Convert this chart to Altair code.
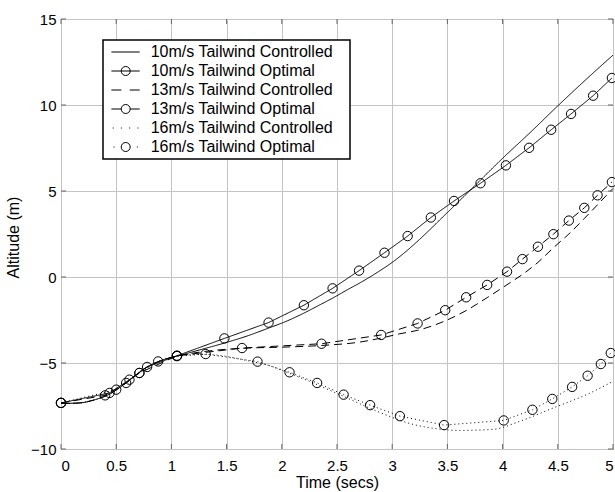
import altair as alt
import pandas as pd

X_TICKS = [0, 0.5, 1, 1.5, 2, 2.5, 3, 3.5, 4, 4.5, 5]
Y_TICKS = [-10, -5, 0, 5, 10, 15]

SERIES = [
    "10m/s Tailwind Controlled",
    "10m/s Tailwind Optimal",
    "13m/s Tailwind Controlled",
    "13m/s Tailwind Optimal",
    "16m/s Tailwind Controlled",
    "16m/s Tailwind Optimal",
]
STYLES = ["solid", "dashed", "dotted"]

# Controlled trajectories (time in s, altitude in m)
ctrl10_t = [0, 0.15, 0.3, 0.45, 0.6, 0.75, 0.9, 1.05, 1.25, 1.48, 1.7, 1.88, 2.05, 2.2, 2.35,
            2.46, 2.6, 2.7, 2.89, 3.0, 3.1, 3.25, 3.5, 3.7, 4.0, 4.25, 4.5, 4.75, 5.0]
ctrl10_h = [-7.35, -7.33, -7.15, -6.77, -6.1, -5.35, -4.87, -4.6, -4.25, -3.84, -3.4, -2.97, -2.55,
            -2.1, -1.6, -1.23, -0.72, -0.37, 0.37, 0.85, 1.35, 2.2, 3.75, 5.0, 6.9, 8.4, 9.95,
            11.45, 12.9]

ctrl13_t = [0, 0.15, 0.3, 0.45, 0.6, 0.75, 0.9, 1.05, 1.2, 1.41, 1.7, 2.0, 2.36, 2.71, 2.9, 3.07,
            3.23, 3.48, 3.67, 3.86, 4.04, 4.18, 4.32, 4.46, 4.6, 4.74, 4.86, 5.0]
ctrl13_h = [-7.35, -7.33, -7.15, -6.77, -6.1, -5.35, -4.87, -4.6, -4.42, -4.25, -4.13, -4.08, -3.98,
            -3.78, -3.55, -3.3, -3.1, -2.55, -1.95, -1.2, -0.45, 0.15, 0.85, 1.7, 2.5, 3.4, 4.2,
            5.15]

ctrl16_t = [0, 0.15, 0.3, 0.45, 0.6, 0.75, 0.9, 1.05, 1.3, 1.5, 1.7, 1.86, 2.05, 2.25, 2.56, 2.86,
            3.19, 3.4, 3.61, 3.91, 4.16, 4.46, 4.76, 5.0]
ctrl16_h = [-7.35, -7.33, -7.15, -6.77, -6.1, -5.35, -4.87, -4.6, -4.5, -4.62, -4.88, -5.1, -5.55,
            -6.07, -6.94, -7.8, -8.57, -8.82, -8.92, -8.86, -8.38, -7.61, -6.84, -6.07]

# Optimal trajectories (marker points)
opt10_t = [0, 0.44, 0.62, 0.78, 1.05, 1.48, 1.88, 2.2, 2.46, 2.7, 2.93, 3.14, 3.35, 3.56, 3.8,
           4.03, 4.24, 4.44, 4.62, 4.82, 4.99]
opt10_h = [-7.32, -6.74, -5.97, -5.23, -4.58, -3.57, -2.65, -1.64, -0.66, 0.37, 1.41, 2.38, 3.46,
           4.42, 5.45, 6.49, 7.51, 8.56, 9.48, 10.54, 11.57]

opt13_t = [0, 0.4, 0.59, 0.71, 1.05, 1.64, 2.36, 2.9, 3.23, 3.48, 3.67, 3.86, 4.04, 4.18, 4.32,
           4.46, 4.6, 4.74, 4.86, 4.99]
opt13_h = [-7.32, -6.88, -6.16, -5.58, -4.58, -4.13, -3.88, -3.37, -2.7, -1.93, -1.18, -0.46, 0.31,
           1.04, 1.76, 2.49, 3.28, 4.02, 4.75, 5.52]

opt16_t = [0, 0.5, 0.71, 0.88, 1.05, 1.31, 1.78, 2.07, 2.32, 2.56, 2.8, 3.07, 3.47, 4.01, 4.27,
           4.45, 4.63, 4.77, 4.89, 4.98]
opt16_h = [-7.32, -6.55, -5.58, -4.91, -4.6, -4.48, -4.92, -5.54, -6.16, -6.84, -7.45, -8.09, -8.61,
           -8.34, -7.72, -7.09, -6.39, -5.74, -5.06, -4.42]


def frame(name, style, t, h):
    return pd.DataFrame({"series": name, "style": style, "t": t, "h": h, "i": range(len(t))})


ctrl_df = pd.concat([
    frame(SERIES[0], STYLES[0], ctrl10_t, ctrl10_h),
    frame(SERIES[2], STYLES[1], ctrl13_t, ctrl13_h),
    frame(SERIES[4], STYLES[2], ctrl16_t, ctrl16_h),
])
opt_df = pd.concat([
    frame(SERIES[1], STYLES[0], opt10_t, opt10_h),
    frame(SERIES[3], STYLES[1], opt13_t, opt13_h),
    frame(SERIES[5], STYLES[2], opt16_t, opt16_h),
])
all_df = pd.concat([ctrl_df, opt_df])

# line styles
DASHES = [[1, 0], [8, 5], [1, 3]]

# legend sample glyphs (custom symbol paths)
CIRCLE = ("M0.9,0C0.9,0.497,0.497,0.9,0,0.9C-0.497,0.9,-0.9,0.497,-0.9,0"
          "C-0.9,-0.497,-0.497,-0.9,0,-0.9C0.497,-0.9,0.9,-0.497,0.9,0Z")
GLYPHS = [
    "M-2.86,0L2.8,0",
    "M-2.86,0L2.8,0" + CIRCLE,
    "M-2.86,0L-0.86,0M0.8,0L2.8,0",
    "M-2.86,0L-0.9,0M0.9,0L2.8,0" + CIRCLE,
    "M-2.6,0L-2.4,0M-0.96,0L-0.76,0M0.7,0L0.9,0M2.36,0L2.56,0",
    "M-2.44,0L-2.24,0M2.24,0L2.44,0" + CIRCLE,
]

FONT = "Liberation Sans"

xscale = alt.Scale(domain=[0, 5], nice=False)
yscale = alt.Scale(domain=[-10, 15], nice=False)

X = alt.X("t:Q", scale=xscale, axis=alt.Axis(
    values=X_TICKS, format="~g", title="Time (secs)", grid=True, ticks=False, domain=False,
    labelPadding=9, titleY=38, titleBaseline="alphabetic"))
Y = alt.Y("h:Q", scale=yscale, axis=alt.Axis(
    values=Y_TICKS, format="~g", title="Altitude (m)", grid=True, ticks=False, domain=False,
    labelPadding=5, titleX=-43, titleY=218, titleBaseline="alphabetic", titleAngle=270))

dash = alt.StrokeDash("style:N", scale=alt.Scale(domain=STYLES, range=DASHES), legend=None)

ctrl_lines = alt.Chart(ctrl_df).mark_line(color="black", strokeWidth=1, interpolate="monotone").encode(
    x=X, y=Y, strokeDash=dash, detail="series:N", order="i:Q")

opt_lines = alt.Chart(opt_df).mark_line(color="black", strokeWidth=1).encode(
    x="t:Q", y="h:Q", strokeDash=dash, detail="series:N", order="i:Q")

opt_marks = alt.Chart(opt_df).mark_point(
    shape="circle", filled=False, color="black", size=88, strokeWidth=1, opacity=1).encode(
    x="t:Q", y="h:Q")

legend_layer = alt.Chart(all_df).transform_filter("false").mark_point(
    filled=False, color="black", size=100, strokeWidth=1, opacity=1).encode(
    x="t:Q", y="h:Q",
    shape=alt.Shape("series:N", scale=alt.Scale(domain=SERIES, range=GLYPHS),
                    legend=alt.Legend(
                        title=None, orient="none", legendX=42, legendY=21, direction="vertical",
                        fillColor="white", strokeColor="black", padding=4, cornerRadius=0,
                        rowPadding=3, symbolOffset=10.7, labelOffset=17, labelFont=FONT,
                        labelFontSize=16, labelColor="black", labelLimit=400, symbolSize=100,
                        symbolStrokeWidth=1, symbolStrokeColor="black",
                        symbolFillColor="transparent", symbolOpacity=1,
                        labelExpr="datum.label + '\u2800'")))

xt = pd.DataFrame({"t": X_TICKS})
yt = pd.DataFrame({"h": Y_TICKS})
tick_color = "#666666"
xticks_top = alt.Chart(xt).mark_rule(color=tick_color, strokeWidth=1).encode(
    x="t:Q", y=alt.value(0), y2=alt.value(5))
xticks_bot = alt.Chart(xt).mark_rule(color=tick_color, strokeWidth=1).encode(
    x="t:Q", y=alt.value(430), y2=alt.value(425))
yticks_left = alt.Chart(yt).mark_rule(color=tick_color, strokeWidth=1).encode(
    y="h:Q", x=alt.value(0), x2=alt.value(5))
yticks_right = alt.Chart(yt).mark_rule(color=tick_color, strokeWidth=1).encode(
    y="h:Q", x=alt.value(552), x2=alt.value(547))

chart = alt.layer(
    ctrl_lines, xticks_top, xticks_bot, yticks_left, yticks_right,
    opt_lines, opt_marks, legend_layer
).properties(
    width=552, height=430, autosize="none",
    padding={"left": 61, "top": 19, "right": 2, "bottom": 43},
    background="white",
).configure_view(
    stroke="black", strokeWidth=1
).configure_axis(
    labelFont=FONT, labelFontSize=15, labelColor="black",
    titleFont=FONT, titleFontSize=16, titleFontWeight="normal", titleColor="black",
    gridColor="#c4c4c4", gridOpacity=1, gridWidth=1,
).configure_legend(
    strokeWidth=1.5
)

chart.save("out.html", embed_options={"renderer": "svg", "actions": False})
